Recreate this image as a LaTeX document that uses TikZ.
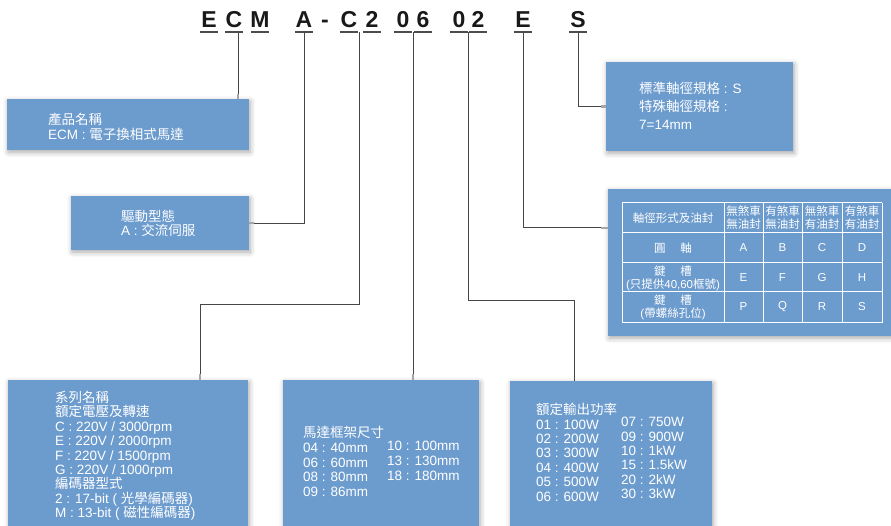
\documentclass[tikz,border=0pt]{standalone}
\usepackage{fontspec}
\setmainfont{Liberation Sans}
\newfontfamily\cjk{Noto Sans CJK TC}
\usetikzlibrary{shadows.blur}
\definecolor{boxblue}{RGB}{108,155,206}
\definecolor{wirecol}{RGB}{70,70,70}
\newcommand{\zh}[1]{{\cjk #1}}
\begin{document}
\begin{tikzpicture}[x=1pt, y=-1pt,
  box/.style={fill=boxblue, rectangle, inner sep=0pt, anchor=north west,
    blur shadow={shadow xshift=1pt, shadow yshift=-2pt, shadow blur radius=5pt, shadow opacity=35}},
  txt/.style={text=white, anchor=north west, align=left, inner sep=0pt, font=\fontsize{13.5}{14.4}\selectfont},
  code/.style={text=black!90, anchor=base, inner sep=0pt, font=\fontsize{23}{23}\bfseries\selectfont},
  uline/.style={draw=black!70, line width=1.5pt},
  wire/.style={draw=wirecol, line width=1pt},
  pin/.style={draw=gray!70, line width=2.5pt},
  grid/.style={draw=white, line width=1pt},
  cell/.style={text=white, align=center, inner sep=0pt, font=\fontsize{11.5}{13}\selectfont}]
\useasboundingbox (0,0) rectangle (891,526);

% model code
\foreach \ch/\xx in {E/209, C/234, M/260, A/304, C/349, 2/372, 0/403, 6/423, 0/459, 2/478, E/523, S/578} {
  \node[code] (h\xx) at (\xx,28) {\ch};
  \draw[uline] (\xx-9,32) -- (\xx+9,32);
}
\node[code] (hdash) at (325,28) {-};

\coordinate (pECM) at (238,32);
\coordinate (pA) at (304,32);
\coordinate (pC) at (359,32);
\coordinate (p06) at (413,32);
\coordinate (p02) at (468,32);
\coordinate (pE) at (523,32);
\coordinate (pS) at (578,32);

% boxes
\node[box, minimum width=242pt, minimum height=51pt] (B1) at (7,99) {};
\node[box, minimum width=178pt, minimum height=54pt] (B2) at (71,196) {};
\node[box, minimum width=187pt, minimum height=89pt] (B3) at (606,62) {};
\node[box, minimum width=290pt, minimum height=147pt] (B4) at (608,189) {};
\node[box, minimum width=240pt, minimum height=160pt] (B5) at (8,380) {};
\node[box, minimum width=196pt, minimum height=160pt] (B6) at (283,380) {};
\node[box, minimum width=202pt, minimum height=160pt] (B7) at (510,381) {};

\node[txt] (T1) at (48,113) {\zh{產品名稱}\\ECM : \zh{電子換相式馬達}};
\node[txt] (T2) at (121,210) {\zh{驅動型態}\\A : \zh{交流伺服}};
\node[txt, font=\fontsize{13.5}{18}\selectfont] (T3) at (639,82) {\zh{標準軸徑規格} : S\\\zh{特殊軸徑規格} :\\7=14mm};
\node[txt] (T5) at (55,391) {\zh{系列名稱}\\\zh{額定電壓及轉速}\\C : 220V / 3000rpm\\E : 220V / 2000rpm\\F : 220V / 1500rpm\\G : 220V / 1000rpm\\\zh{編碼器型式}\\2 : 17-bit ( \zh{光學編碼器})\\M : 13-bit ( \zh{磁性編碼器})};
\node[txt, font=\fontsize{13.5}{14.8}\selectfont] (T6a) at (303,426) {\zh{馬達框架尺寸}\\04 : 40mm\\06 : 60mm\\08 : 80mm\\09 : 86mm};
\node[txt, font=\fontsize{13.5}{14.8}\selectfont] (T6b) at (387,441) {10 : 100mm\\13 : 130mm\\18 : 180mm};
\node[txt] (T7a) at (536,403) {\zh{額定輸出功率}\\01 : 100W\\02 : 200W\\03 : 300W\\04 : 400W\\05 : 500W\\06 : 600W};
\node[txt] (T7b) at (621,417) {07 : 750W\\09 : 900W\\10 : 1kW\\15 : 1.5kW\\20 : 2kW\\30 : 3kW};

% table
\foreach \yy in {203,233,263,292,323} \draw[grid] (622,\yy) -- (882,\yy);
\foreach \xx in {622,724,763,802,842,882} \draw[grid] (\xx,203) -- (\xx,323);
\node[cell] (th) at (673,218) {\zh{軸徑形式及油封}};
\foreach \xx/\a/\b [count=\i] in {743.5/無/無, 782.5/有/無, 822/無/有, 862/有/有}
  \node[cell] (tc\i) at (\xx,218) {\zh{\a 煞車}\\\zh{\b 油封}};
\node[cell] (tr1) at (673,248) {\zh{圓\hspace{1.3em}軸}};
\node[cell] (tr2) at (673,278) {\zh{鍵\hspace{1.3em}槽}\\(\zh{只提供}40,60\zh{框號})};
\node[cell] (tr3) at (673,307) {\zh{鍵\hspace{1.3em}槽}\\(\zh{帶螺絲孔位})};
\foreach \ch/\xx/\yy in {A/743.5/248, B/782.5/248, C/822/248, D/862/248,
                         E/743.5/278, F/782.5/278, G/822/278, H/862/278,
                         P/743.5/307, Q/782.5/307, R/822/307, S/862/307}
  \node[cell] (t\ch) at (\xx,\yy) {\ch};

% connectors
\coordinate (kC) at (200,305);
\coordinate (k02) at (574,301);
\coordinate (kE) at (608,228);
\draw[wire] (pECM) -- (pECM |- B1.north);
\draw[wire] (pA) |- (B2.east);
\draw[wire] (pC) |- (kC) -- (kC |- B5.north);
\draw[wire] (p06) -- (p06 |- B6.north);
\draw[wire] (p02) |- (k02) -- (k02 |- B7.north);
\draw[wire] (pE) |- (kE);
\draw[wire] (pS) |- (B3.west);

\draw[pin] (pECM |- B1.north) -- ++(0,-5);
\draw[pin] (B2.east) -- ++(5,0);
\draw[pin] (kE) -- ++(-7,0);
\draw[pin] (B3.west) -- ++(-5,0);
\draw[pin] (kC |- B5.north) -- ++(0,-6);
\draw[pin] (p06 |- B6.north) -- ++(0,-6);
\end{tikzpicture}
\end{document}
